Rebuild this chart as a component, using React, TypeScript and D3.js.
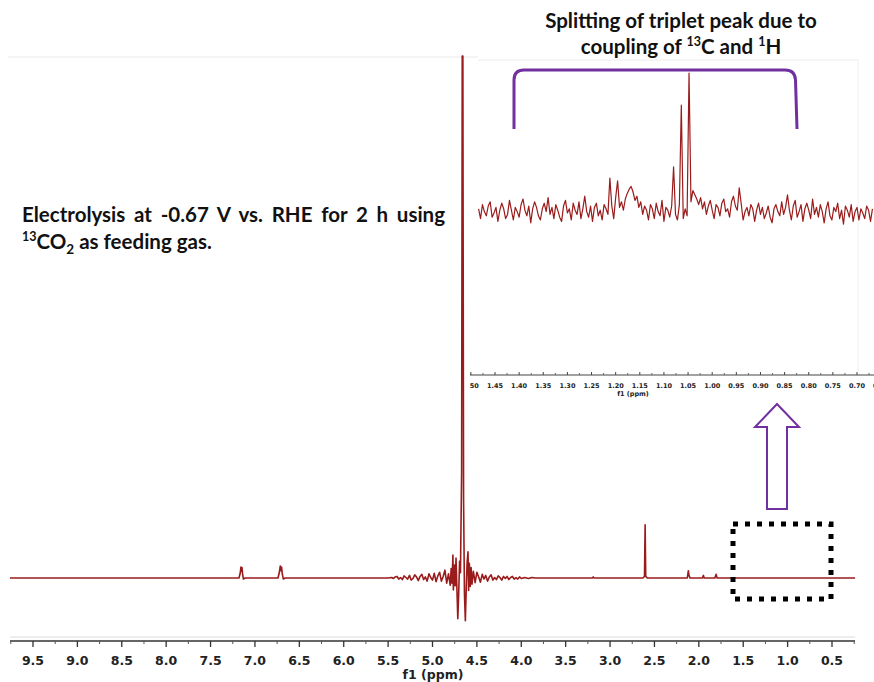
import React, { useLayoutEffect, useRef, useState } from "react";
import * as d3 from "d3";

const W = 874;
const H = 682;

// main axis tick labels (ppm)
const mainTicks = [9.5, 9.0, 8.5, 8.0, 7.5, 7.0, 6.5, 6.0, 5.5, 5.0, 4.5, 4.0, 3.5, 3.0, 2.5, 2.0, 1.5, 1.0, 0.5];
const mainMinorTicks = [9.75, 9.25, 8.75, 8.25, 7.75, 7.25, 6.75, 6.25, 5.75, 5.25, 4.75, 4.25, 3.75, 3.25, 2.75, 2.25, 1.75, 1.25, 0.75, 0.25];

// main spectrum: [ppm, intensity]
const mainSpectrum: [number, number][] = [
  [9.76, 0],
  [7.18, 0], [7.165, 1.0], [7.158, 2.1], [7.152, 1.3], [7.146, 2.0], [7.14, 0.9], [7.13, -0.2], [7.11, 0],
  [6.74, 0], [6.725, 1.1], [6.715, 2.3], [6.708, 1.4], [6.7, 2.1], [6.692, 0.8], [6.68, -0.2], [6.66, 0],
  [5.5, 0],
  [5.46, 0.1], [5.44, -0.1], [5.42, 0.2], [5.4, 0.3], [5.38, -0.2], [5.36, 0.1], [5.34, -0.3], [5.32, 0.4],
  [5.3, 0.1], [5.28, -0.2], [5.26, 0.5], [5.24, -0.4], [5.22, -0.1], [5.2, 0.6], [5.18, 0.2], [5.16, -0.5],
  [5.14, 0.3], [5.12, 0.7], [5.1, -0.3], [5.08, 0.2], [5.06, -0.6], [5.04, 0.8], [5.02, 0.1], [5.0, -0.4],
  [4.98, 0.9], [4.96, -0.7], [4.94, 0.4], [4.92, 1.1], [4.9, -0.6], [4.88, 0.3], [4.86, 1.5], [4.84, -1.0],
  [4.82, 0.8], [4.8, -1.4],
  [4.79, 1.8], [4.78, -1.0], [4.77, 4.4], [4.765, -2.3], [4.755, 2.5], [4.745, -1.5], [4.735, 3.8], [4.725, -2.0],
  [4.715, -7.8], [4.705, -3.0], [4.695, 3.2], [4.685, 1.0], [4.672, 20], [4.665, 100], [4.658, 100], [4.65, 15],
  [4.64, -3.0], [4.63, -8.2], [4.62, -2.0], [4.61, 3.0], [4.6, 5.0], [4.593, -2.4], [4.585, 2.8], [4.575, -1.6],
  [4.565, 2.0], [4.555, -1.2], [4.54, 1.3], [4.52, -0.9],
  [4.5, 1.1], [4.48, 0.2], [4.46, -0.8], [4.44, 0.7], [4.42, -0.2], [4.4, 0.5], [4.38, -0.6], [4.36, 0.2],
  [4.34, 0.6], [4.32, -0.4], [4.3, 0.1], [4.28, -0.3], [4.26, 0.4], [4.24, 0.1], [4.22, -0.4], [4.2, 0.3],
  [4.18, -0.1], [4.16, 0.3], [4.14, -0.3], [4.12, 0.1], [4.1, 0.3], [4.08, -0.2], [4.06, 0.1], [4.04, -0.2],
  [4.02, 0.2], [4.0, -0.1], [3.96, 0.1], [3.92, -0.1], [3.88, 0.1], [3.84, 0],
  [3.2, 0], [3.19, 0.2], [3.18, 0],
  [2.63, 0], [2.612, 0.3], [2.605, 10.2], [2.598, 0.3], [2.58, 0],
  [2.13, 0], [2.118, 1.4], [2.112, 0.6], [2.1, 0],
  [1.96, 0], [1.948, 0.5], [1.94, 0],
  [1.82, 0], [1.805, 0.7], [1.795, 0],
  [0.24, 0],
];

// inset (zoomed 1.50 - 0.65 ppm)
const insetTicks = [1.5, 1.45, 1.4, 1.35, 1.3, 1.25, 1.2, 1.15, 1.1, 1.05, 1.0, 0.95, 0.9, 0.85, 0.8, 0.75, 0.7, 0.65];
const insetStart = 1.484;
const insetStep = 0.004;
const insetValues = [
  3, -4, 6, 1, -2, 5, 8, -3, 0, 4,
  -6, 2, 7, 3, -4, -1, 9, 2, -5, 4,
  1, -3, 6, 10, 2, -2, 5, -7, 3, 8,
  4, -2, -5, 3, 7, 1, 11, -1, 4, -4,
  6, 2, -3, -6, 5, 9, 0, 3, -5, 7,
  2, -1, 8, -4, 3, 12, 1, -3, 5, -6,
  4, 7, -2, 2, -5, 6, 3, -1, 25, 5,
  -4, 11, 23, 4, 8, 2, 10, 14, 17, 19,
  15, 9, 12, 4, 8, -1, 5, 2, -5, 6,
  3, -4, 7, 1, -2, 9, -6, 4, 2, -3,
  5, 33, -1, -5, 6, 77, -4, 3, -2, 100,
  8, 16, 13, 10, 6, 11, 3, 8, -1, 5,
  9, 2, -4, 6, 4, -2, 7, 10, 1, 3,
  -3, 8, 12, 5, 2, 18, 7, -5, 1, 4,
  -2, 6, 3, -6, 2, 7, -1, 4, -4, 0,
  5, -3, -7, 3, 6, 1, -2, 8, -1, 4,
  13, 2, -5, 5, 9, -3, 1, 6, -6, 3,
  7, 2, -4, 10, -1, 4, -3, 6, 1, -7,
  3, 8, -2, -5, 4, 1, 7, -4, 2, -8,
  5, 2, -3, 6, -6, 1, 4, -5, 3, 0,
  -4, 5, 2, -6, 3,
];

const titleLine1 = "Splitting of triplet peak due to";
const noteLine1 = "Electrolysis at -0.67 V vs. RHE for 2 h using";

const RED = "#9a1b1b";
const PURPLE = "#7030a0";

export default function App() {
  const xMain = d3.scaleLinear().domain([9.5, 0.5]).range([33, 832]);
  const yMain = d3.scaleLinear().domain([0, 100]).range([578, 56]);
  const xInset = d3.scaleLinear().domain([1.45, 0.7]).range([495, 857]);
  const yInset = d3.scaleLinear().domain([0, 100]).range([213, 73]);

  const mainLine = d3
    .line<[number, number]>()
    .x((d) => xMain(d[0]))
    .y((d) => yMain(d[1]));

  const insetData: [number, number][] = insetValues.map((v, i) => [insetStart - i * insetStep, v]);
  const insetLine = d3
    .line<[number, number]>()
    .x((d) => xInset(d[0]))
    .y((d) => yInset(d[1]));

  const insetMinor = insetTicks.slice(0, -1).map((t) => t - 0.025);

  const noteRef = useRef<SVGTextElement>(null);
  const [wordSpacing, setWordSpacing] = useState(0);
  useLayoutEffect(() => {
    if (noteRef.current && wordSpacing === 0) {
      const natural = noteRef.current.getComputedTextLength();
      const gaps = noteLine1.split(" ").length - 1;
      setWordSpacing(Math.max(0.01, (423 - natural) / gaps));
    }
  }, [wordSpacing]);

  const fmt = d3.format(".1f");
  const fmt2 = d3.format(".2f");

  return (
    <svg
      width={W}
      height={H}
      style={{ position: "absolute", left: 0, top: 0, background: "#fff" }}
      fontFamily="Lato, 'Open Sans', sans-serif"
    >
      <defs>
        <clipPath id="insetClip">
          <rect x={478} y={60} width={396} height={310} />
        </clipPath>
        <clipPath id="insetLabelClip">
          <rect x={470} y={370} width={404} height={40} />
        </clipPath>
      </defs>

      {/* faint frame lines */}
      <line x1={8} x2={478} y1={57} y2={57} stroke="#e8e8e8" strokeWidth={1} />
      <line x1={478} x2={858} y1={60} y2={60} stroke="#ececec" strokeWidth={1} />
      <line x1={858} x2={858} y1={60} y2={372} stroke="#f0f0f0" strokeWidth={1} />
      <line x1={10} x2={855} y1={637} y2={637} stroke="#dcdcdc" strokeWidth={1} />

      {/* title */}
      <text x={681} y={28} textAnchor="middle" fontSize={20.5} fontWeight={700} fill="#111">
        {titleLine1}
      </text>
      <text x={681} y={54} textAnchor="middle" fontSize={20.5} fontWeight={700} fill="#111">
        <tspan>coupling of </tspan>
        <tspan fontSize={12.5} dy={-8}>13</tspan>
        <tspan dy={8}>C and </tspan>
        <tspan fontSize={12.5} dy={-8}>1</tspan>
        <tspan dy={8}>H</tspan>
      </text>

      {/* note */}
      <text
        ref={noteRef}
        x={22}
        y={222}
        fontSize={20.5}
        fontWeight={700}
        fill="#111"
        style={{ wordSpacing: `${wordSpacing}px` }}
      >
        {noteLine1}
      </text>
      <text x={22} y={249} fontSize={20.5} fontWeight={700} fill="#111">
        <tspan fontSize={12.5} dy={-8}>13</tspan>
        <tspan dy={8}>CO</tspan>
        <tspan fontSize={13.5} dy={5}>2</tspan>
        <tspan dy={-5}> as feeding gas.</tspan>
      </text>

      {/* bracket */}
      <path
        d="M514,129 L514,80 Q514,70 524,70 L785,70 Q795,70 795.5,80 L797,129"
        fill="none"
        stroke={PURPLE}
        strokeWidth={3}
      />

      {/* inset spectrum */}
      <g clipPath="url(#insetClip)">
        <path d={insetLine(insetData) ?? ""} fill="none" stroke={RED} strokeWidth={1.2} strokeLinejoin="round" />
      </g>

      {/* inset axis */}
      <line x1={470} x2={874} y1={375} y2={375} stroke="#444" strokeWidth={1} />
      <g clipPath="url(#insetLabelClip)">
        {insetTicks.map((t) => (
          <g key={"it" + t}>
            <line x1={xInset(t)} x2={xInset(t)} y1={375} y2={372} stroke="#444" strokeWidth={1} />
            <text
              x={xInset(t)}
              y={388}
              textAnchor="middle"
              fontSize={6.5}
              fontWeight={700}
              fontFamily="'DejaVu Sans', Verdana, sans-serif"
              fill="#222"
            >
              {fmt2(t)}
            </text>
          </g>
        ))}
        {insetMinor.map((t) => (
          <line key={"im" + t} x1={xInset(t)} x2={xInset(t)} y1={375} y2={373} stroke="#666" strokeWidth={1} />
        ))}
      </g>
      <text
        x={633}
        y={396}
        textAnchor="middle"
        fontSize={6.5}
        fontWeight={700}
        fontFamily="'DejaVu Sans', Verdana, sans-serif"
        fill="#222"
      >
        f1 (ppm)
      </text>

      {/* arrow */}
      <polygon
        points="777,404 799,427 787,427 787,509 767,509 767,427 755,427"
        fill="#fff"
        stroke={PURPLE}
        strokeWidth={2}
        strokeLinejoin="miter"
      />

      {/* main spectrum */}
      <path d={mainLine(mainSpectrum) ?? ""} fill="none" stroke={RED} strokeWidth={1.6} strokeLinejoin="round" />

      {/* dotted box */}
      <rect
        x={733}
        y={524}
        width={98}
        height={75}
        fill="none"
        stroke="#000"
        strokeWidth={5}
        strokeDasharray="5 7"
      />

      {/* main axis */}
      <line x1={10} x2={855} y1={641} y2={641} stroke="#333" strokeWidth={1.3} />
      {mainTicks.map((t) => (
        <g key={"mt" + t}>
          <line x1={xMain(t)} x2={xMain(t)} y1={641} y2={647} stroke="#333" strokeWidth={1.3} />
          <text
            x={xMain(t)}
            y={665}
            textAnchor="middle"
            fontSize={12.5}
            fontWeight={700}
            fontFamily="'DejaVu Sans', Verdana, sans-serif"
            fill="#222"
          >
            {fmt(t)}
          </text>
        </g>
      ))}
      {mainMinorTicks.map((t) => (
        <line key={"mm" + t} x1={xMain(t)} x2={xMain(t)} y1={641} y2={644} stroke="#555" strokeWidth={1} />
      ))}
      <text
        x={433}
        y={679}
        textAnchor="middle"
        fontSize={12.5}
        fontWeight={700}
        fontFamily="'DejaVu Sans', Verdana, sans-serif"
        fill="#222"
      >
        f1 (ppm)
      </text>
    </svg>
  );
}
